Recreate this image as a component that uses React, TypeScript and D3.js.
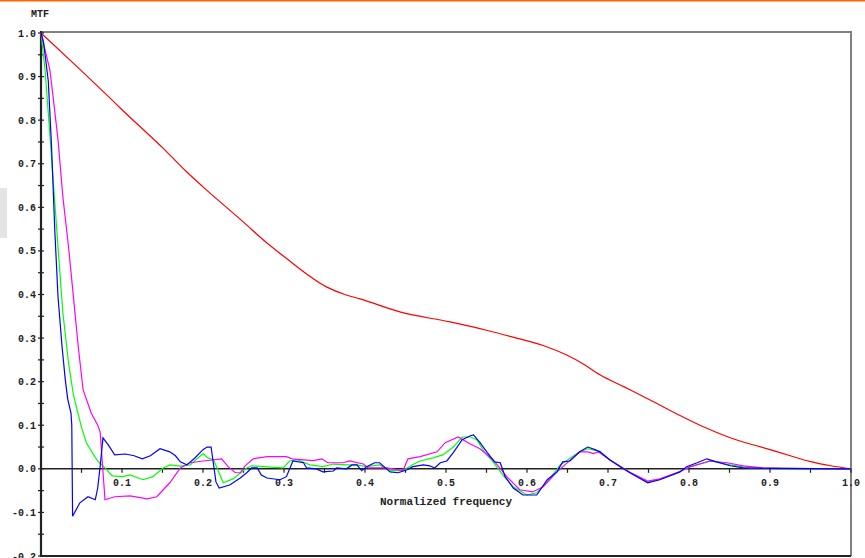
import React from "react";
import * as d3 from "d3";

// ---- Data ----
const xTickValues = [0.1, 0.2, 0.3, 0.4, 0.5, 0.6, 0.7, 0.8, 0.9, 1.0];
const xTickLabels = ["0.1", "0.2", "0.3", "0.4", "0.5", "0.6", "0.7", "0.8", "0.9", "1.0"];
const yTickValues = [1.0, 0.9, 0.8, 0.7, 0.6, 0.5, 0.4, 0.3, 0.2, 0.1, 0.0, -0.1, -0.2];
const yTickLabels = ["1.0", "0.9", "0.8", "0.7", "0.6", "0.5", "0.4", "0.3", "0.2", "0.1", "0.0", "-0.1", "-0.2"];
const minorTickStep = 0.05;

const xTitle = "Normalized frequency";
const yTitle = "MTF";

type Pt = [number, number];

const redSeries: Pt[] = [
  [0, 1.0], [0.05, 0.913], [0.085, 0.851], [0.1, 0.824], [0.15, 0.737], [0.18, 0.681],
  [0.2, 0.647], [0.25, 0.566], [0.279, 0.518], [0.3, 0.487], [0.353, 0.417], [0.375, 0.4],
  [0.394, 0.39], [0.443, 0.36], [0.505, 0.337], [0.55, 0.318], [0.587, 0.3], [0.62, 0.283],
  [0.649, 0.261], [0.67, 0.24], [0.69, 0.216], [0.72, 0.188], [0.752, 0.158], [0.785, 0.126],
  [0.817, 0.097], [0.85, 0.072], [0.9, 0.044], [0.925, 0.03], [0.949, 0.017], [0.975, 0.007], [1.0, 0.0],
];

const blueSeries: Pt[] = [
  [0, 1.0], [0.003, 0.98], [0.009, 0.89], [0.013, 0.74], [0.017, 0.548], [0.021, 0.395],
  [0.026, 0.28], [0.03, 0.204], [0.033, 0.16], [0.037, 0.128], [0.038, 0.1], [0.039, -0.109],
  [0.048, -0.078], [0.058, -0.064], [0.067, -0.071], [0.07, -0.044], [0.073, 0.005], [0.0765, 0.071],
  [0.083, 0.055], [0.091, 0.032], [0.104, 0.034], [0.115, 0.03], [0.125, 0.023], [0.135, 0.03],
  [0.147, 0.046], [0.159, 0.039], [0.166, 0.03], [0.172, 0.016], [0.18, 0.009], [0.19, 0.025],
  [0.2, 0.044], [0.205, 0.05], [0.21, 0.05], [0.213, 0.01], [0.216, -0.03], [0.22, -0.044],
  [0.233, -0.037], [0.246, -0.021], [0.254, -0.009], [0.26, 0.002], [0.267, 0.002], [0.272, -0.014],
  [0.279, -0.021], [0.295, -0.025], [0.303, -0.018], [0.311, 0.018], [0.324, 0.014], [0.328, 0.002],
  [0.34, 0.0], [0.348, -0.007], [0.361, -0.005], [0.365, 0.002], [0.377, 0.0], [0.384, 0.009],
  [0.39, 0.009], [0.396, -0.004], [0.402, 0.005], [0.412, 0.014], [0.418, 0.014], [0.431, -0.007],
  [0.441, -0.009], [0.452, -0.002], [0.459, 0.005], [0.472, 0.009], [0.48, 0.007], [0.486, 0.002],
  [0.493, 0.014], [0.501, 0.018], [0.509, 0.037], [0.52, 0.067], [0.53, 0.076], [0.534, 0.078],
  [0.542, 0.06], [0.551, 0.037], [0.56, 0.016], [0.567, 0.014], [0.573, -0.018], [0.583, -0.044],
  [0.595, -0.06], [0.612, -0.06], [0.625, -0.025], [0.637, -0.007], [0.644, 0.016], [0.653, 0.018],
  [0.665, 0.039], [0.675, 0.05], [0.684, 0.044], [0.69, 0.039], [0.702, 0.021], [0.715, 0.005],
  [0.727, -0.009], [0.749, -0.032], [0.764, -0.025], [0.789, -0.007], [0.797, 0.005], [0.81, 0.014],
  [0.822, 0.023], [0.834, 0.016], [0.851, 0.007], [0.867, 0.002], [0.9, 0.001], [1.0, 0.0],
];

const greenSeries: Pt[] = [
  [0, 1.0], [0.005, 0.915], [0.009, 0.816], [0.015, 0.663], [0.021, 0.509], [0.027, 0.358],
  [0.034, 0.243], [0.04, 0.17], [0.044, 0.14], [0.05, 0.095], [0.056, 0.06], [0.064, 0.035],
  [0.07, 0.018], [0.079, 0.002], [0.088, -0.016], [0.101, -0.018], [0.11, -0.014], [0.126, -0.025],
  [0.138, -0.018], [0.151, 0.002], [0.159, 0.009], [0.172, 0.006], [0.184, 0.009], [0.2, 0.035],
  [0.206, 0.025], [0.213, 0.021], [0.225, -0.032], [0.237, -0.023], [0.254, 0.002], [0.26, 0.007],
  [0.283, 0.004], [0.299, 0.002], [0.307, 0.018], [0.316, 0.021], [0.332, 0.009], [0.348, 0.005],
  [0.361, 0.011], [0.377, 0.009], [0.39, 0.009], [0.402, 0.005], [0.418, 0.009], [0.431, -0.004],
  [0.447, -0.004], [0.458, 0.009], [0.468, 0.018], [0.484, 0.025], [0.496, 0.032], [0.509, 0.05],
  [0.52, 0.073], [0.53, 0.073], [0.538, 0.067], [0.548, 0.037], [0.558, 0.016], [0.57, -0.014],
  [0.583, -0.041], [0.6, -0.06], [0.612, -0.055], [0.625, -0.03], [0.641, 0.009], [0.665, 0.039],
  [0.675, 0.046], [0.69, 0.04], [0.702, 0.021], [0.727, -0.008], [0.749, -0.03], [0.764, -0.024],
  [0.789, -0.006], [0.8, 0.004], [0.826, 0.018], [0.851, 0.009], [0.875, 0.002], [0.9, 0.001], [1.0, 0.0],
];

const magentaSeries: Pt[] = [
  [0, 1.0], [0.005, 0.961], [0.011, 0.915], [0.015, 0.853], [0.021, 0.755], [0.027, 0.624],
  [0.034, 0.509], [0.04, 0.395], [0.046, 0.28], [0.052, 0.181], [0.062, 0.128], [0.07, 0.1],
  [0.073, 0.085], [0.079, -0.071], [0.091, -0.064], [0.11, -0.062], [0.131, -0.069], [0.143, -0.064],
  [0.151, -0.048], [0.159, -0.032], [0.172, 0.002], [0.184, 0.014], [0.2, 0.018], [0.223, 0.023],
  [0.231, 0.005], [0.24, -0.009], [0.246, -0.009], [0.252, 0.007], [0.262, 0.023], [0.279, 0.028],
  [0.303, 0.028], [0.31, 0.023], [0.336, 0.019], [0.347, 0.023], [0.354, 0.014], [0.373, 0.014],
  [0.381, 0.018], [0.398, 0.011], [0.404, 0.002], [0.427, 0.002], [0.447, -0.004], [0.453, 0.023],
  [0.468, 0.028], [0.489, 0.039], [0.499, 0.06], [0.515, 0.073], [0.53, 0.057], [0.542, 0.046],
  [0.558, 0.021], [0.575, -0.018], [0.591, -0.048], [0.607, -0.053], [0.62, -0.041], [0.637, -0.007],
  [0.665, 0.039], [0.675, 0.039], [0.682, 0.035], [0.688, 0.039], [0.702, 0.021], [0.727, -0.008],
  [0.749, -0.028], [0.764, -0.023], [0.789, -0.006], [0.8, 0.004], [0.826, 0.018], [0.847, 0.014],
  [0.867, 0.007], [0.891, 0.002], [0.92, 0.001], [1.0, 0.0],
];

const seriesList: { data: Pt[]; color: string; smooth: boolean }[] = [
  { data: redSeries, color: "#ff0000", smooth: true },
  { data: greenSeries, color: "#00ff00", smooth: false },
  { data: magentaSeries, color: "#ff00ff", smooth: false },
  { data: blueSeries, color: "#0000ff", smooth: false },
];

const W = 865;
const H = 558;
const FONT = "'Liberation Mono', 'Courier New', monospace";

export default function App() {
  const x = d3.scaleLinear().domain([0, 1]).range([41, 851]);
  const y = d3.scaleLinear().domain([-0.2, 1]).range([556, 33]);
  const linePoly = d3
    .line<Pt>()
    .x((d) => x(d[0]))
    .y((d) => y(d[1]));
  const lineSmooth = d3
    .line<Pt>()
    .x((d) => x(d[0]))
    .y((d) => y(d[1]))
    .curve(d3.curveMonotoneX);

  const minorX = d3.range(minorTickStep, 1 + 1e-9, minorTickStep);
  const minorY = d3.range(-0.2, 1 + 1e-9, minorTickStep);
  const y0 = y(0);

  return (
    <svg
      width={W}
      height={H}
      style={{ position: "absolute", left: 0, top: 0, background: "#fff" }}
    >
      <rect x={0} y={0} width={W} height={H} fill="#ffffff" />
      <rect x={0} y={0} width={W} height={1.5} fill="#ff6600" />
      <rect x={0} y={188} width={7} height={50} fill="#e4e4e4" />

      {/* frame */}
      <line x1={x(0)} x2={x(1)} y1={y(1) - 1} y2={y(1) - 1} stroke="#808080" strokeWidth={2} />
      <line x1={x(1)} x2={x(1)} y1={y(1) - 2} y2={y(-0.2)} stroke="#808080" strokeWidth={2} />
      <line x1={x(0)} x2={x(1)} y1={y(-0.2)} y2={y(-0.2)} stroke="#222" strokeWidth={2} />

      {/* zero line + x ticks */}
      <line x1={x(0)} x2={x(1)} y1={y0} y2={y0} stroke="#222" strokeWidth={1.5} />
      {minorX.map((v, i) => (
        <line key={"xt" + i} x1={x(v)} x2={x(v)} y1={y0} y2={y0 + 4} stroke="#222" strokeWidth={1.2} />
      ))}
      {xTickValues.map((v, i) => (
        <text
          key={"xl" + i}
          x={x(v)}
          y={y0 + 17}
          textAnchor="middle"
          fontFamily={FONT}
          fontWeight="bold"
          fontSize={10}
          fill="#222"
        >
          {xTickLabels[i]}
        </text>
      ))}

      {/* y axis */}
      <line x1={x(0)} x2={x(0)} y1={y(1) - 2} y2={y(-0.2) + 1} stroke="#222" strokeWidth={2.2} />
      {minorY.map((v, i) => (
        <line key={"yt" + i} x1={x(0) - 3} x2={x(0) + 3} y1={y(v)} y2={y(v)} stroke="#222" strokeWidth={1.2} />
      ))}
      {yTickValues.map((v, i) => (
        <text
          key={"yl" + i}
          x={36}
          y={y(v) + 3.5}
          textAnchor="end"
          fontFamily={FONT}
          fontWeight="bold"
          fontSize={10}
          fill="#222"
        >
          {yTickLabels[i]}
        </text>
      ))}

      {/* titles */}
      <text x={31} y={17} fontFamily={FONT} fontWeight="bold" fontSize={10} fill="#222">
        {yTitle}
      </text>
      <text
        x={446}
        y={505}
        textAnchor="middle"
        fontFamily={FONT}
        fontWeight="bold"
        fontSize={11}
        fill="#222"
      >
        {xTitle}
      </text>

      {/* curves */}
      {seriesList.map((s, i) => (
        <path
          key={"s" + i}
          d={(s.smooth ? lineSmooth(s.data) : linePoly(s.data)) || ""}
          fill="none"
          stroke={s.color}
          strokeWidth={1.2}
        />
      ))}
    </svg>
  );
}
